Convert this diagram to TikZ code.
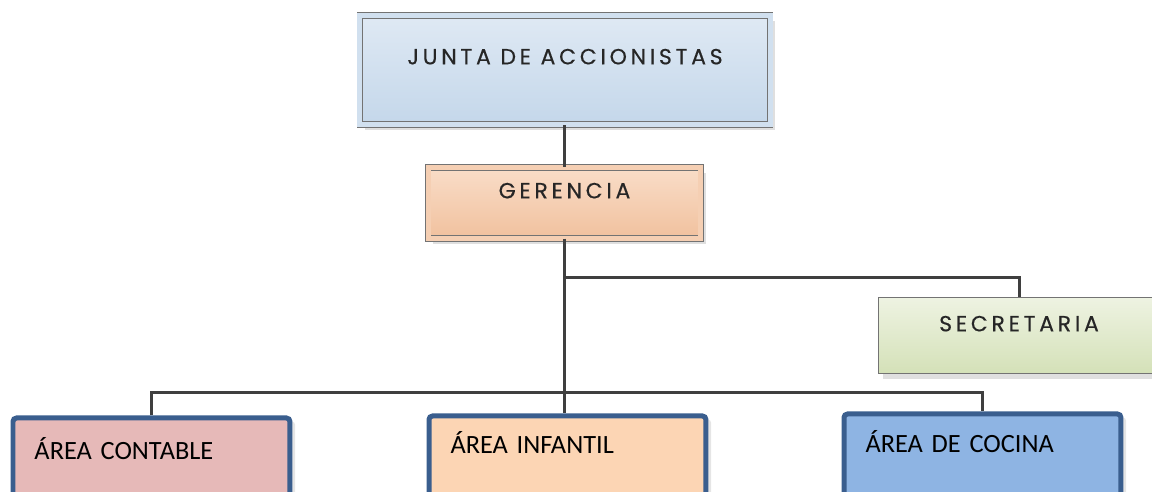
\documentclass[tikz,border=0pt]{standalone}
\usepackage{fontspec}
\newfontfamily\topfont[LetterSpace=17,FakeBold=0.4]{Poppins}
\newfontfamily\areafont{Carlito}
\usetikzlibrary{shadows}

\definecolor{juntatop}{HTML}{DFE9F4}
\definecolor{juntabot}{HTML}{C4D7EA}
\definecolor{gertop}{HTML}{F9DDC8}
\definecolor{gerbot}{HTML}{F1C19E}
\definecolor{sectop}{HTML}{EEF3E2}
\definecolor{secbot}{HTML}{D4E1B8}
\definecolor{arealine}{HTML}{3A5E8E}
\definecolor{contfill}{HTML}{E6B9B8}
\definecolor{inffill}{HTML}{FCD5B4}
\definecolor{cocfill}{HTML}{8EB4E3}
\definecolor{linkgray}{HTML}{3F3F3F}

\begin{document}
\begin{tikzpicture}[x=0.02cm,y=-0.02cm]
\clip (0,0) rectangle (1152,492);
\fill[white] (0,0) rectangle (1152,492);

\begin{scope}[every node/.style={draw=gray!90!black,inner sep=0pt,anchor=north,
              font=\topfont\fontsize{12.5}{15}\selectfont,text=black!85,
              drop shadow={shadow xshift=3pt,shadow yshift=-3pt,opacity=.25}}]
    \node[double=juntatop!50!juntabot,double distance=0.1cm,
          top color=juntatop,bottom color=juntabot,
          minimum width=8.21cm,text height=0.98cm,text depth=1.2cm]
          (junta) at (565,15) {JUNTA DE ACCIONISTAS};
    \node[double=gertop!50!gerbot,double distance=0.1cm,
          top color=gertop,bottom color=gerbot,
          minimum width=5.46cm,text height=0.62cm,text depth=0.8cm]
          (gerencia) at (564.5,167) {GERENCIA};
    \node[top color=sectop,bottom color=secbot,
          minimum width=5.64cm,text height=0.68cm,text depth=0.84cm]
          (secretaria) at (1019,297) {SECRETARIA};
\end{scope}

\begin{scope}[every node/.style={draw=arealine,line width=0.1cm,rounded corners=2pt,
              anchor=north west,inner ysep=0pt,inner xsep=0.43cm,
              text width=4.68cm,align=left,text depth=2cm,
              font=\areafont\fontsize{15}{18}\selectfont,
              drop shadow={shadow xshift=3pt,shadow yshift=-2pt,opacity=.2}}]
    \node[fill=contfill,text height=0.83cm] (contable) at (10.5,415.5) {ÁREA CONTABLE};
    \node[fill=inffill,text height=0.75cm] (infantil) at (426.5,413.5) {ÁREA INFANTIL};
    \node[fill=cocfill,text height=0.77cm] (cocina) at (841.5,411.5) {ÁREA DE COCINA};
\end{scope}

\coordinate (split) at (566,278);
\coordinate (bar) at (566,393);

\begin{scope}[every path/.style={draw=linkgray,line width=0.06cm}]
    \path [-] (gerencia.north) edge (gerencia.north |- junta.south);
    \path [-] (gerencia.south) edge (gerencia.south |- infantil.north);
    \draw (gerencia.south |- split) -| (secretaria.north);
    \draw (contable.north) |- (bar) -| (cocina.north);
\end{scope}
\end{tikzpicture}
\end{document}
